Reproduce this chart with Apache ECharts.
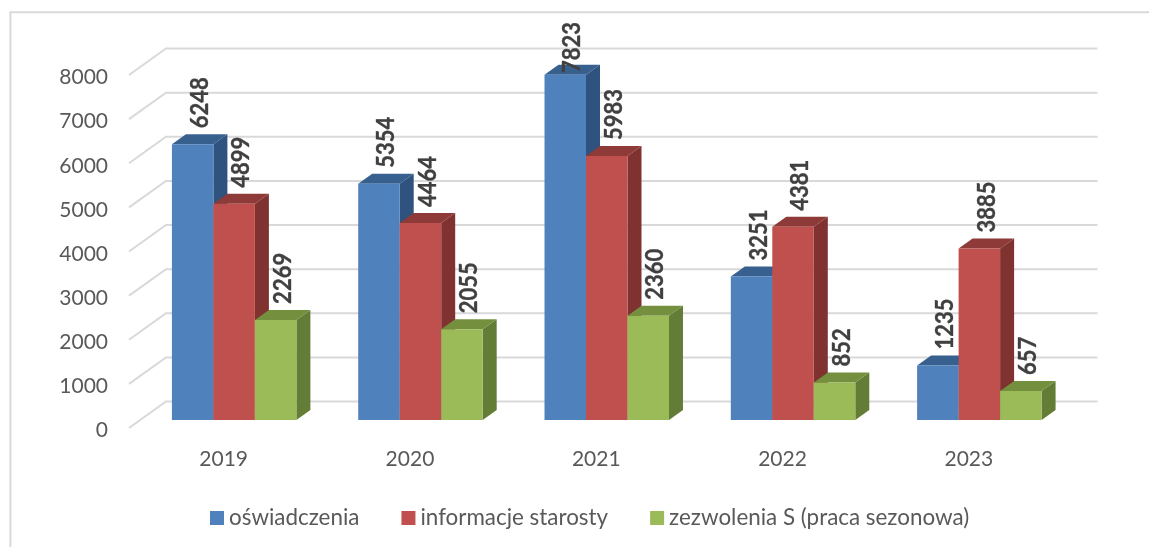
<!DOCTYPE html>
<html>
<head>
<meta charset="utf-8">
<style>
html, body { margin: 0; padding: 0; background: #fff; }
#chart { width: 1149px; height: 547px; }
</style>
<script src="https://cdn.jsdelivr.net/npm/echarts@6/dist/echarts.min.js"></script>
</head>
<body>
<div id="chart"></div>
<script>
var years = ['2019', '2020', '2021', '2022', '2023'];
var oswiadczenia = [6248, 5354, 7823, 3251, 1235];
var informacje = [4899, 4464, 5983, 4381, 3885];
var zezwolenia = [2269, 2055, 2360, 852, 657];
var yTicks = [0, 1000, 2000, 3000, 4000, 5000, 6000, 7000, 8000];

var FONT = 'Lato, "Noto Sans", sans-serif';
var DEPTH_X = 14, DEPTH_Y = 10;   // bar side and top

// one 3d bar: front, top, side and the rotated value above it
function barRenderer(index, front, top, side) {
    return function (params, api) {
        var cat = api.value(0);
        var value = api.value(1);
        var p = api.coord([cat, value]);
        var base = api.coord([cat, 0]);
        var w = api.size([1, 0])[0] / 4.49;
        var x0 = p[0] + (index - 1.5) * w;
        var x1 = x0 + w;
        var y0 = p[1], y1 = base[1];
        return {
            type: 'group',
            children: [{
                type: 'polygon',
                shape: { points: [[x1, y0], [x1 + DEPTH_X, y0 - DEPTH_Y], [x1 + DEPTH_X, y1 - DEPTH_Y], [x1, y1]] },
                style: { fill: side }
            }, {
                type: 'polygon',
                shape: { points: [[x0, y0], [x0 + DEPTH_X, y0 - DEPTH_Y], [x1 + DEPTH_X, y0 - DEPTH_Y], [x1, y0]] },
                style: { fill: top }
            }, {
                type: 'rect',
                shape: { x: x0, y: y0, width: w, height: y1 - y0 },
                style: { fill: front }
            }, {
                type: 'text',
                x: x0 + (w + DEPTH_X) / 2,
                // the tallest label stops at the chart border
                y: Math.max(y0 - 16, 73),
                rotation: Math.PI / 2,
                scaleY: 1.15,
                z2: 10,
                style: {
                    text: String(value),
                    font: 'bold 22px ' + FONT,
                    fill: '#404040',
                    stroke: '#404040',
                    lineWidth: 0.3,
                    align: 'left',
                    verticalAlign: 'middle'
                }
            }]
        };
    };
}

// gridline on the back wall plus the diagonal on the side wall
function renderWall(params, api) {
    var y = api.coord([0, api.value(1)])[1];
    var left = params.coordSys.x;
    var right = left + params.coordSys.width;
    var lineStyle = { stroke: '#d9d9d9', lineWidth: 2, fill: null };
    return {
        type: 'group',
        children: [{
            type: 'polyline',
            shape: { points: [[left - 12, y + 8], [left + 25, y - 18.5], [right + 25, y - 18.5]] },
            style: lineStyle
        }]
    };
}

function makeBars(name, values, index, front, top, side) {
    var rows = [];
    for (var i = 0; i < values.length; i++) {
        rows.push([i, values[i]]);
    }
    return {
        name: name,
        type: 'custom',
        z: 3,
        itemStyle: { color: front },
        encode: { x: 0, y: 1 },
        data: rows,
        renderItem: barRenderer(index, front, top, side)
    };
}

var wallRows = [];
for (var t = 0; t < yTicks.length; t++) {
    wallRows.push([0, yTicks[t]]);
}

var chart = echarts.init(document.getElementById('chart'));
chart.setOption({
    animation: false,
    backgroundColor: '#fff',
    textStyle: { fontFamily: FONT },
    grid: { left: 141, top: 67, width: 931.5, height: 353 },
    graphic: [{
        type: 'polyline',
        shape: { points: [[10.4, 547], [10.4, 12.3], [1149, 12.3]] },
        style: { stroke: '#d9d9d9', lineWidth: 2, fill: null }
    }],
    legend: {
        left: 210,
        top: 507,
        padding: 0,
        icon: 'rect',
        itemWidth: 14,
        itemHeight: 14,
        itemGap: 42,
        data: ['oświadczenia', 'informacje starosty', 'zezwolenia S (praca sezonowa)'],
        textStyle: { color: '#595959', fontSize: 22.4, fontFamily: FONT }
    },
    xAxis: {
        type: 'category',
        data: years,
        axisLine: { show: false },
        axisTick: { show: false },
        axisLabel: { color: '#595959', fontSize: 21, margin: 29, padding: [0, 21, 0, 0] }
    },
    yAxis: {
        type: 'value',
        min: 0,
        max: 8000,
        interval: 1000,
        axisLine: { show: false },
        axisTick: { show: false },
        splitLine: { show: false },
        axisLabel: {
            color: '#595959',
            fontSize: 21,
            margin: 33,
            verticalAlign: 'top',
            formatter: function (v) {
                return String(v);
            }
        }
    },
    series: [{
        name: 'walls',
        type: 'custom',
        z: 1,
        silent: true,
        encode: { x: 0, y: 1 },
        data: wallRows,
        renderItem: renderWall
    },
    makeBars('oświadczenia', oswiadczenia, 0, '#4f81bd', '#37608f', '#30527f'),
    makeBars('informacje starosty', informacje, 1, '#c0504d', '#8e3a38', '#7f3230'),
    makeBars('zezwolenia S (praca sezonowa)', zezwolenia, 2, '#9bbb59', '#74903f', '#647d36')]
});

window.addEventListener('resize', function () {
    chart.resize();
});
</script>
</body>
</html>
